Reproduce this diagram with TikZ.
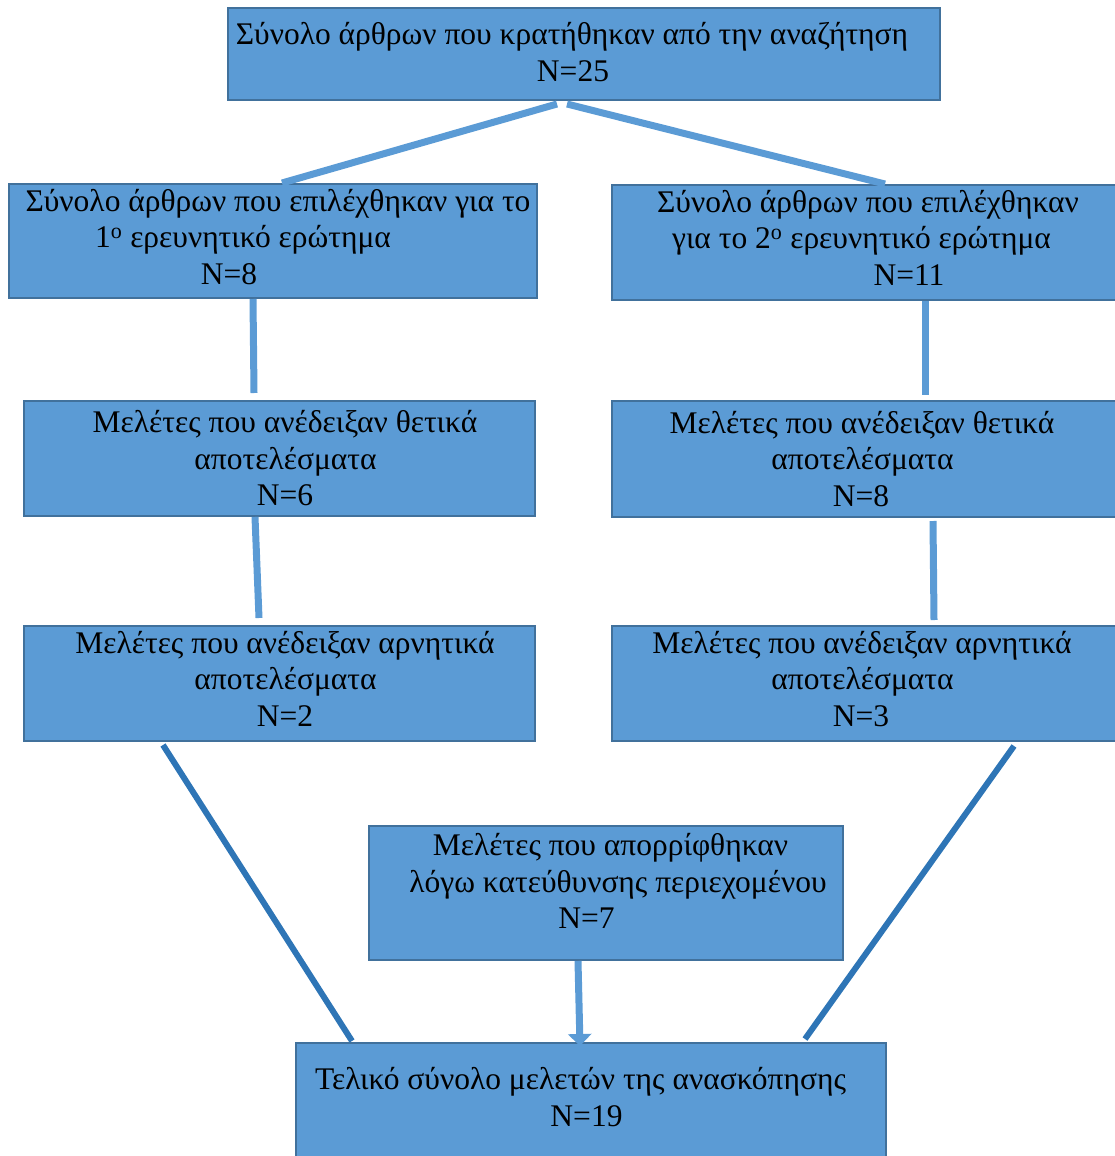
\documentclass[tikz,border=0pt]{standalone}
\usepackage{fontspec}
\setmainfont{Liberation Serif}
\usepackage{tikz}
\usetikzlibrary{arrows.meta}

\definecolor{boxfill}{HTML}{5B9BD5}
\definecolor{boxline}{HTML}{41719C}
\definecolor{linkdark}{HTML}{2E75B6}

% shift one line of a box sideways, keeping its width
\newcommand\sh[2]{\hbox{\kern#1pt#2\kern-#1pt}}
% lift the text of a box a little
\newcommand\lift[1]{\\[#1pt]\mbox{}}

\tikzset{
  flowbox/.style={draw=boxline,line width=2pt,fill=boxfill,inner sep=0pt,align=center,
    font=\fontsize{31.5}{36.5}\selectfont},
  link/.style={draw=boxfill,line width=7pt},
  linkdk/.style={draw=linkdark,line width=6pt}
}

\begin{document}
\begin{tikzpicture}[x=1pt,y=-1pt]
\useasboundingbox (0,0) rectangle (1115,1156);
\node[flowbox,minimum width=712,minimum height=92] (total) at (584,54)
  {\sh{-12}{Σύνολο άρθρων που κρατήθηκαν από την αναζήτηση}\\\sh{-11}{N=25}\lift{-32.5}};
\node[flowbox,minimum width=528,minimum height=114] (sel1) at (273,241)
  {\sh{5}{Σύνολο άρθρων που επιλέχθηκαν για το}\\\sh{-30}{1\textsuperscript{o} ερευνητικό ερώτημα}\\\sh{-44}{N=8}\lift{-28}};
\node[flowbox,minimum width=506,minimum height=115] (sel2) at (865,242.5)
  {\sh{3}{Σύνολο άρθρων που επιλέχθηκαν}\\\sh{-3.5}{για το 2\textsuperscript{o} ερευνητικό ερώτημα}\\\sh{44}{N=11}\lift{-26.5}};
\node[flowbox,minimum width=511,minimum height=115] (pos1) at (279.5,458.5)
  {\sh{5.5}{Μελέτες που ανέδειξαν θετικά}\\\sh{6}{αποτελέσματα}\\\sh{5.5}{N=6}};
\node[flowbox,minimum width=506,minimum height=116] (pos2) at (865,459)
  {\sh{-3}{Μελέτες που ανέδειξαν θετικά}\\\sh{-2.5}{αποτελέσματα}\\\sh{-4}{N=8}};
\node[flowbox,minimum width=511,minimum height=115] (neg1) at (279.5,683.5)
  {\sh{5.5}{Μελέτες που ανέδειξαν αρνητικά}\\\sh{6}{αποτελέσματα}\\\sh{5.5}{N=2}\lift{-26.5}};
\node[flowbox,minimum width=506,minimum height=115] (neg2) at (865,683.5)
  {\sh{-3}{Μελέτες που ανέδειξαν αρνητικά}\\\sh{-2.5}{αποτελέσματα}\\\sh{-4}{N=3}\lift{-26.5}};
\node[flowbox,minimum width=474,minimum height=134] (rejected) at (606,893)
  {\sh{4.5}{Μελέτες που απορρίφθηκαν}\\\sh{12}{λόγω κατεύθυνσης περιεχομένου}\\\sh{-19.5}{N=7}\lift{-12.5}};
\node[flowbox,minimum width=590,minimum height=114] (final) at (591,1100)
  {\sh{-10.5}{Τελικό σύνολο μελετών της ανασκόπησης}\\\sh{-4.5}{N=19}\lift{-30}};

% connectors
\draw[link] ([xshift=-27pt,yshift=-3pt]total.south) -- ([xshift=9pt]sel1.north);
\draw[link] ([xshift=-17pt,yshift=-3pt]total.south) -- ([xshift=20pt]sel2.north);
\draw[link] ([xshift=-20pt]sel1.south) -- ([xshift=-25.5pt,yshift=7pt]pos1.north);
\draw[link] ([xshift=60pt]sel2.south) -- ([xshift=60pt,yshift=5pt]pos2.north);
\draw[link] ([xshift=-24.5pt]pos1.south) -- ([xshift=-20.5pt,yshift=7pt]neg1.north);
\draw[link] ([xshift=68pt,yshift=-3pt]pos2.south) -- ([xshift=69pt,yshift=5pt]neg2.north);
\draw[linkdk] ([xshift=-116.5pt,yshift=-3pt]neg1.south) -- ([xshift=-239pt,yshift=1pt]final.north);
\draw[linkdk] ([xshift=149pt,yshift=-4pt]neg2.south) -- ([xshift=214pt,yshift=3pt]final.north);
\draw[link,-{Triangle[width=23pt,length=12pt]},boxfill] ([xshift=-28pt]rejected.south) -- ([xshift=-11pt,yshift=-4pt]final.north);
\end{tikzpicture}
\end{document}
